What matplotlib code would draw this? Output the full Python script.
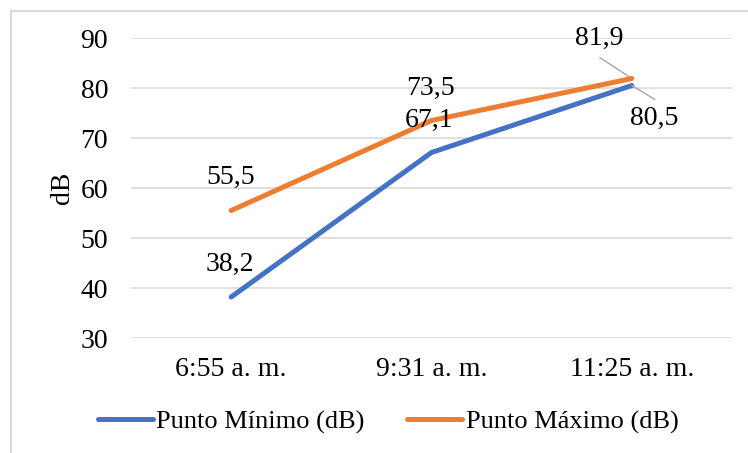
import matplotlib
matplotlib.use("Agg")
import matplotlib.pyplot as plt
from matplotlib.lines import Line2D

plt.rcParams['font.family'] = ['Liberation Serif', 'DejaVu Serif']

categories = ["6:55 a. m.", "9:31 a. m.", "11:25 a. m."]
minimo = [38.2, 67.1, 80.5]
maximo = [55.5, 73.5, 81.9]
series_names = ["Punto Mínimo (dB)", "Punto Máximo (dB)"]
yticks = [30, 40, 50, 60, 70, 80, 90]

blue = "#4472C4"
orange = "#ED7D31"
grid = "#D9D9D9"
FS = 20

fig = plt.figure(figsize=(7.48, 4.53), dpi=100)
ax = fig.add_axes([131/748, 1-338/453, (732-131)/748, (338-38)/453])

x = list(range(len(categories)))
ax.plot(x, minimo, color=blue, lw=3.6, solid_capstyle='round', label=series_names[0], zorder=3)
ax.plot(x, maximo, color=orange, lw=3.6, solid_capstyle='round', label=series_names[1], zorder=4)

ax.set_xlim(-0.5, len(categories)-0.5)
ax.set_ylim(30, 90)
ax.set_yticks(yticks)
ax.set_xticks(x)
ax.set_xticklabels(categories)
for s in ax.spines.values():
    s.set_visible(False)
ax.grid(axis='y', color=grid, lw=1.2)
ax.set_axisbelow(True)
ax.tick_params(length=0, labelsize=FS, colors='black')
ax.tick_params(axis='y', pad=16.5)
ax.tick_params(axis='x', pad=14)
ax.set_ylabel("dB", fontsize=FS, va='center')
ax.yaxis.set_label_coords((62-131)/601, (338-188)/300)

def fmt(v):
    return f"{v:.1f}".replace(".", ",")

# label offsets in pixels (dx, dy)
min_off = [(-1, 33), (-2, 32), (22, -32.5)]
max_off = [(-1, 33), (-1, 32), (-33, 40.5)]
px2pt = 72/100
for i, v in enumerate(minimo):
    dx, dy = min_off[i]
    ax.annotate(fmt(v), (x[i], v), xytext=(dx*px2pt, dy*px2pt), textcoords='offset points',
                ha='center', va='center', fontsize=FS, zorder=5)
for i, v in enumerate(maximo):
    dx, dy = max_off[i]
    ax.annotate(fmt(v), (x[i], v), xytext=(dx*px2pt, dy*px2pt), textcoords='offset points',
                ha='center', va='center', fontsize=FS, zorder=5)

# leader lines for last points
ax.annotate("", (x[2], maximo[2]), xytext=(-32*px2pt, 21*px2pt), textcoords='offset points',
            arrowprops=dict(arrowstyle='-', color='#A6A6A6', lw=1, shrinkA=0, shrinkB=0))
ax.annotate("", (x[2], minimo[2]), xytext=(23*px2pt, -14*px2pt), textcoords='offset points',
            arrowprops=dict(arrowstyle='-', color='#A6A6A6', lw=1, shrinkA=0, shrinkB=0))

handles = [Line2D([], [], color=blue, lw=3.6, solid_capstyle='round'),
           Line2D([], [], color=orange, lw=3.6, solid_capstyle='round')]
fig.legend(handles, series_names, loc='center', bbox_to_anchor=(388/748, 1-422/453),
           ncol=2, frameon=False, fontsize=19, handlelength=2.1, handletextpad=0.12,
           columnspacing=1.6)

# chart area border (left and top visible)
fig.add_artist(Line2D([10.5/748, 10.5/748], [0, 1-10.5/453], color='#D9D9D9', lw=1.5, transform=fig.transFigure))
fig.add_artist(Line2D([10.5/748, 1], [1-10.5/453, 1-10.5/453], color='#D9D9D9', lw=1.5, transform=fig.transFigure))

fig.savefig("out.png", dpi=100)
